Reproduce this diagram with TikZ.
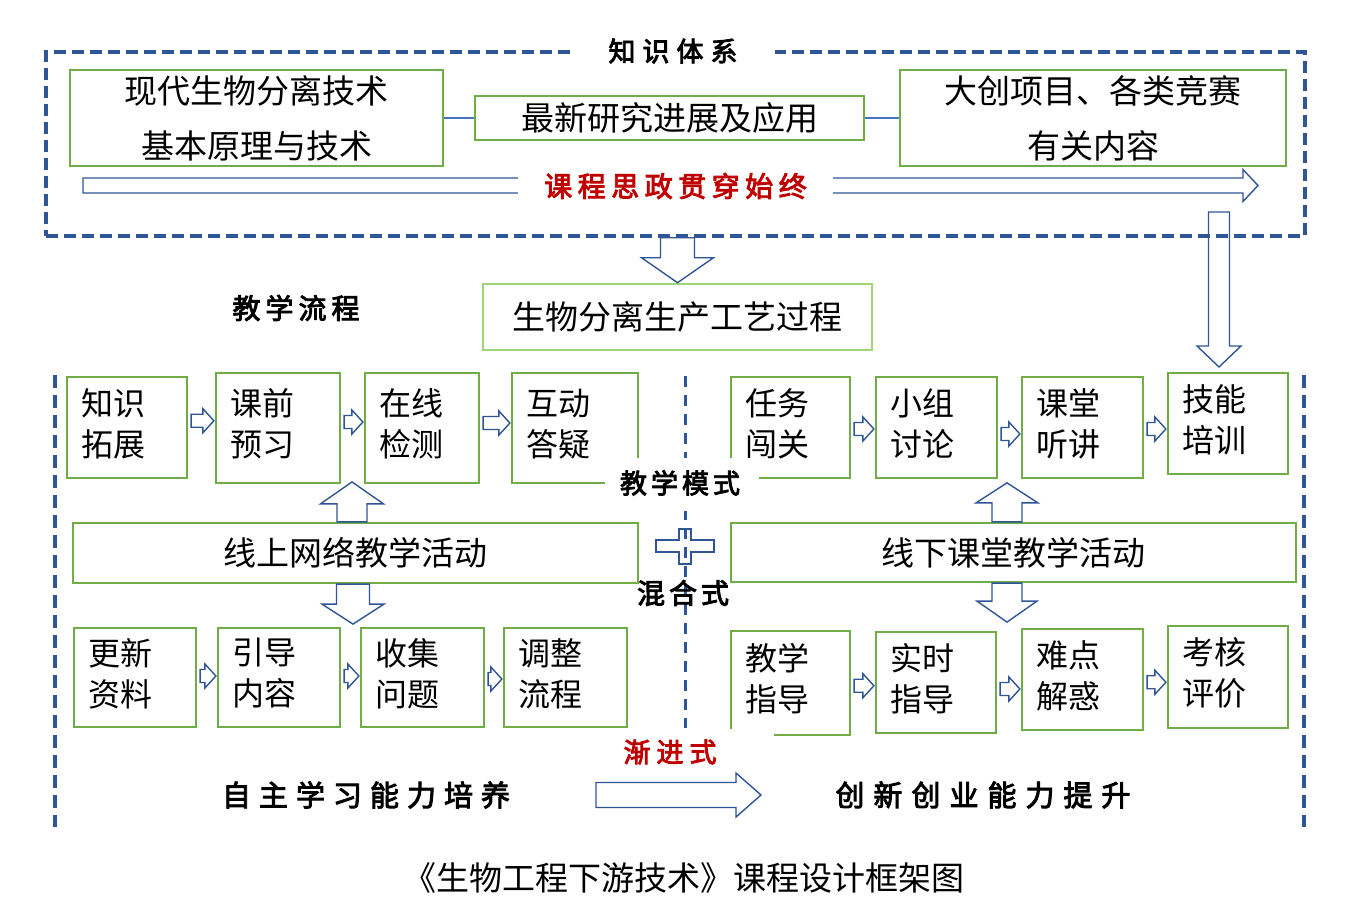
\documentclass[tikz,border=0pt]{standalone}
\usepackage{fontspec}
\newfontfamily\cjk{Noto Sans CJK SC}
\newfontfamily\cjkb[FakeBold=3.2]{Noto Sans CJK SC}
\usetikzlibrary{calc}
\definecolor{dblue}{RGB}{47,85,151}
\definecolor{lblue}{RGB}{68,114,196}
\definecolor{bgreen}{RGB}{112,173,71}
\definecolor{pgreen}{RGB}{160,212,120}
\definecolor{dred}{RGB}{192,0,0}
\newcommand\gp[1]{\hspace{#1pt}}
\tikzset{
 gbox/.style={draw=bgreen, line width=2.2pt, inner sep=0pt},
 btxt/.style={font=\cjk\fontsize{32}{41}\selectfont, align=left, inner sep=0pt, anchor=west},
 ttxt/.style={font=\cjk\fontsize{33}{55}\selectfont, align=center},
 barrow/.style={draw=dblue, line width=1.4pt, fill=white, line join=miter},
 kdash/.style={draw=dblue, line width=3.5pt, dash pattern=on 12pt off 6pt},
 vdash/.style={draw=dblue, line width=3.5pt, dash pattern=on 13pt off 7pt},
 cdash/.style={draw=dblue, line width=3pt, dash pattern=on 11pt off 8pt},
 lab/.style={font=\cjkb\fontsize{27}{27}\selectfont, inner sep=0pt},
 conn/.style={draw=lblue, line width=1.6pt},
}
% box with left-aligned two-line text
\newcommand\rbox[6]{%
 \node[gbox, minimum width={(#4-#2)*1pt}, minimum height={(#5-#3)*1pt}] (#1) at ({(#2+#4)/2},{(#3+#5)/2}) {};
 \node[btxt] (#1t) at ($(#1.west)+(15,-4)$) {#6};}
% small block arrow between two named boxes
\newcommand\sarrow[3]{%
 \draw[barrow] let \p1=($(#1.east)+(3,0)$), \p2=($(#2.west)+(-1,0)$), \p3=($(#1.east)!0.5!(#2.west)+(0,#3)$) in
 (\x1,\y3+6.5pt) -- (\x2-11pt,\y3+6.5pt) -- (\x2-11pt,\y3+12pt) -- (\x2,\y3) -- (\x2-11pt,\y3-12pt) -- (\x2-11pt,\y3-6.5pt) -- (\x1,\y3-6.5pt) -- cycle;}
% right block arrow: start, tip, shaft half, head half, head length
\newcommand\rtarr[5]{%
 \draw[barrow] let \p1=#1, \p2=#2 in (\x1,\y2+#3) -- (\x2-#5,\y2+#3) -- (\x2-#5,\y2+#4) -- (\x2,\y2) -- (\x2-#5,\y2-#4) -- (\x2-#5,\y2-#3) -- (\x1,\y2-#3) -- cycle;}
% down block arrow
\newcommand\dnarr[5]{%
 \draw[barrow] let \p1=#1, \p2=#2 in (\x2-#3,\y1) -- (\x2-#3,\y2+#5) -- (\x2-#4,\y2+#5) -- (\x2,\y2) -- (\x2+#4,\y2+#5) -- (\x2+#3,\y2+#5) -- (\x2+#3,\y1) -- cycle;}
% up block arrow
\newcommand\uparr[5]{%
 \draw[barrow] let \p1=#1, \p2=#2 in (\x2-#3,\y1) -- (\x2-#3,\y2-#5) -- (\x2-#4,\y2-#5) -- (\x2,\y2) -- (\x2+#4,\y2-#5) -- (\x2+#3,\y2-#5) -- (\x2+#3,\y1) -- cycle;}
\begin{document}
\begin{tikzpicture}[x=1pt,y=-1pt]
\useasboundingbox (0,0) rectangle (1359,920);
% long arrow to skill training (drawn under the dashed frame)
\coordinate (rs) at (1219,212);
\coordinate (rt) at (1219,367);
\dnarr{(rs)}{(rt)}{10.5pt}{22pt}{21pt}
% knowledge system frame
\node[kdash, minimum width=1259pt, minimum height=184pt, inner sep=0pt] (kbox) at (675.5,144) {};
\node[lab, fill=white, minimum width=204pt] (kl) at (673,51) {知\gp{7}识\gp{7}体\gp{7}系};
\node[gbox, ttxt, minimum width=373pt, minimum height=96pt] (b1) at (256.5,118) {现代生物分离技术\\基本原理与技术};
\node[gbox, ttxt, minimum width=389pt, minimum height=44pt] (b2) at (669.5,118) {最新研究进展及应用};
\node[gbox, ttxt, minimum width=386pt, minimum height=96pt] (b3) at (1093,118) {大创项目、各类竞赛\\有关内容};
\draw[conn] (b1.east) -- (b2.west);
\draw[conn] (b2.east) -- (b3.west);
\coordinate (ks) at (83,185.5);
\coordinate (ke) at (1258,185.5);
\rtarr{(ks)}{(ke)}{7.5pt}{16pt}{15pt}
\node[lab, font=\cjkb\fontsize{28}{28}\selectfont, text=dred, fill=white, minimum width=315pt, minimum height=28pt] (sz) at (675.5,186) {课\gp{5.5}程\gp{5.5}思\gp{5.5}政\gp{5.5}贯\gp{5.5}穿\gp{5.5}始\gp{5.5}终};
% process box
\node[gbox, draw=pgreen, line width=2.6pt, ttxt, minimum width=389pt, minimum height=66pt] (proc) at (677.5,317) {生物分离生产工艺过程};
\dnarr{(kbox.south)}{(proc.north)}{17pt}{36pt}{25pt}
\node[lab, font=\cjkb\fontsize{28}{28}\selectfont] (jl) at (296,308) {教\gp{5}学\gp{5}流\gp{5}程};
% row 1
\rbox{r1a}{67}{377}{187}{478}{知识\\拓展}
\rbox{r1b}{216}{373}{340}{483}{课前\\预习}
\rbox{r1c}{365}{373}{479}{483}{在线\\检测}
\rbox{r1d}{512}{373}{638}{483}{互动\\答疑}
\rbox{r1e}{731}{377}{850}{478}{任务\\闯关}
\rbox{r1f}{876}{377}{997}{478}{小组\\讨论}
\rbox{r1g}{1022}{377}{1143}{478}{课堂\\听讲}
\rbox{r1h}{1168}{373}{1288}{474}{技能\\培训}
\sarrow{r1a}{r1b}{-7}
\sarrow{r1b}{r1c}{-6}
\sarrow{r1c}{r1d}{-5}
\sarrow{r1e}{r1f}{1.5}
\sarrow{r1f}{r1g}{6.5}
\sarrow{r1g}{r1h}{3.5}
% middle activity boxes
\node[gbox, ttxt, minimum width=565pt, minimum height=60pt] (on) at (355.5,553) {线上网络教学活动};
\node[gbox, ttxt, minimum width=565pt, minimum height=59pt] (off) at (1013.5,552.5) {线下课堂教学活动};
\uparr{(on.north)}{($(on.north)+(-3.5,-40)$)}{15pt}{31.5pt}{22pt}
\dnarr{(on.south)}{($(on.south)+(-2.5,40)$)}{16.5pt}{31pt}{20pt}
\uparr{(off.north)}{($(off.north)+(-6.5,-39)$)}{15pt}{31pt}{20pt}
\dnarr{(off.south)}{($(off.south)+(-6.5,39)$)}{15pt}{30pt}{21pt}
% row 3
\rbox{r3a}{74}{628}{196}{727}{更新\\资料}
\rbox{r3b}{218}{628}{340}{727}{引导\\内容}
\rbox{r3c}{361}{628}{484}{727}{收集\\问题}
\rbox{r3d}{504}{628}{627}{727}{调整\\流程}
\rbox{r3e}{731}{631}{850}{735}{教学\\指导}
\rbox{r3f}{876}{632}{996}{733}{实时\\指导}
\rbox{r3g}{1022}{629}{1143}{730}{难点\\解惑}
\rbox{r3h}{1168}{626}{1288}{728}{考核\\评价}
\sarrow{r3a}{r3b}{-1.5}
\sarrow{r3b}{r3c}{-1.5}
\sarrow{r3c}{r3d}{1.5}
\sarrow{r3e}{r3f}{3}
\sarrow{r3f}{r3g}{8}
\sarrow{r3g}{r3h}{4}
% plus sign
\draw[barrow] (656,540) -- (679,540) -- (679,529) -- (691,529) -- (691,540) -- (714,540) -- (714,552) -- (691,552) -- (691,564) -- (679,564) -- (679,552) -- (656,552) -- cycle;
% dashed separators
\coordinate (lt) at (55,375); \coordinate (lb) at (55,827);
\coordinate (rtt) at (1304,375); \coordinate (rb) at (1304,827);
\coordinate (ct) at (685,376); \coordinate (cb) at (685,728);
\draw[vdash] (lt) -- (lb);
\draw[vdash] (rtt) -- (rb);
\draw[cdash] (ct) -- (cb);
% labels
\fill[white] (605,458) rectangle (759,511);
\node[lab] (jm) at (680,483) {教\gp{4}学\gp{4}模\gp{4}式};
\node[lab, font=\cjkb\fontsize{28}{28}\selectfont] (hh) at (683,593) {混\gp{4}合\gp{4}式};
\fill[white] (600,729) rectangle (774,772);
\node[lab, text=dred] (jj) at (670,752) {渐\gp{6}进\gp{6}式};
\coordinate (ws) at (596,795);
\coordinate (we) at (761,795);
\rtarr{(ws)}{(we)}{12.5pt}{22pt}{25pt}
\node[lab, font=\cjkb\fontsize{29}{29}\selectfont] (zz) at (366,795) {自\gp{8}主\gp{8}学\gp{8}习\gp{8}能\gp{8}力\gp{8}培\gp{8}养};
\node[lab, font=\cjkb\fontsize{29}{29}\selectfont] (cx) at (983,795) {创\gp{9}新\gp{9}创\gp{9}业\gp{9}能\gp{9}力\gp{9}提\gp{9}升};
\node[font=\cjk\fontsize{33}{33}\selectfont, inner sep=0pt] (cap) at (683.5,878) {《生物工程下游技术》课程设计框架图};
\end{tikzpicture}
\end{document}
